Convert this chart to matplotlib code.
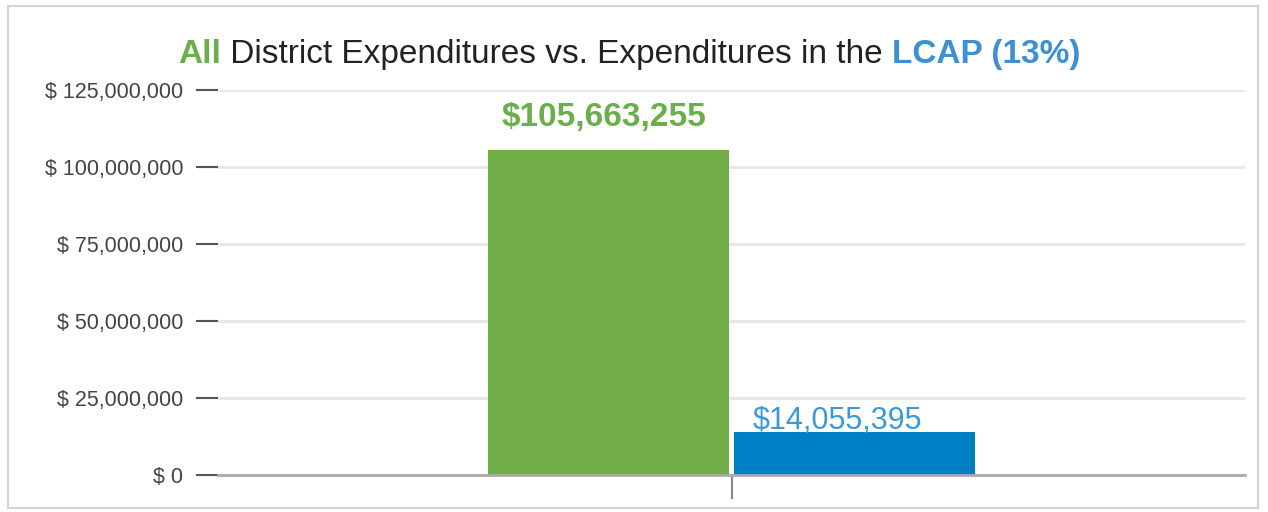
import matplotlib.pyplot as plt
from matplotlib.patches import Rectangle
from matplotlib.ticker import FuncFormatter

# values
categories = ['All District Expenditures', 'LCAP Expenditures']
amounts = [105663255, 14055395]
bar_colors = ['#70AD47', '#0080C4']
label_colors = ['#6AAF4B', '#3A9AD9']
y_ticks = [0, 25000000, 50000000, 75000000, 100000000, 125000000]

fig = plt.figure(figsize=(12.68, 5.12), dpi=100)
plt.rcParams['font.family'] = ['Liberation Sans', 'DejaVu Sans']

# light frame round the whole chart
fig.patches.append(Rectangle((8 / 1268, 4 / 512), 1250 / 1268, 502 / 512,
                             transform=fig.transFigure, fill=False,
                             edgecolor='#d4d4d4', linewidth=1.5))

ax = fig.add_axes([218 / 1268, 37 / 512, 1027 / 1268, 385 / 512])
x = [0, 1]
ax.bar(x, amounts, width=0.98, color=bar_colors, zorder=3)
ax.set_xlim(0.5 - 2.087, 0.5 + 2.087)
ax.set_ylim(0, 125000000)
ax.set_yticks(y_ticks)
ax.yaxis.set_major_formatter(FuncFormatter(lambda v, p: '$ {:,.0f}'.format(v)))
ax.grid(axis='y', color='#e6e6e6', linewidth=2, zorder=0)
ax.tick_params(axis='y', length=16, width=1.5, color='#555555', pad=9,
               labelsize=15.5, labelcolor='#444444')
ax.set_xticks([0.5])
ax.set_xticklabels([''])
ax.tick_params(axis='x', length=17, width=1.5, color='#888888')
for s in ['top', 'right', 'left']:
    ax.spines[s].set_visible(False)
ax.spines['bottom'].set_color('#aaaaaa')
ax.spines['bottom'].set_linewidth(2)
ax.spines['bottom'].set_zorder(4)

# value labels
ax.annotate('${:,}'.format(amounts[0]), (x[0], amounts[0]), xytext=(-3, 12),
            textcoords='offset points', ha='center', va='bottom',
            fontsize=24, fontweight='bold', color=label_colors[0])
ax.annotate('${:,}'.format(amounts[1]), (x[1], amounts[1]), xytext=(-12, -3),
            textcoords='offset points', ha='center', va='bottom',
            fontsize=22, color=label_colors[1])

# multi-coloured title, pieces laid side by side and centred
pieces = [('All', '#6AAF4B', 'bold'),
          (' District Expenditures vs. Expenditures in the ', '#222222', 'normal'),
          ('LCAP (13%)', '#3D8FD6', 'bold')]
renderer = fig.canvas.get_renderer()
texts = []
for s, c, w in pieces:
    t = fig.text(0, 0, s, color=c, fontweight=w, fontsize=24, va='baseline')
    texts.append(t)
widths = [t.get_window_extent(renderer).width for t in texts]
x0 = (629 - sum(widths) / 2)
for t, w in zip(texts, widths):
    t.set_position((x0 / 1268, (512 - 63) / 512))
    x0 += w

fig.savefig('out.png', dpi=100)
